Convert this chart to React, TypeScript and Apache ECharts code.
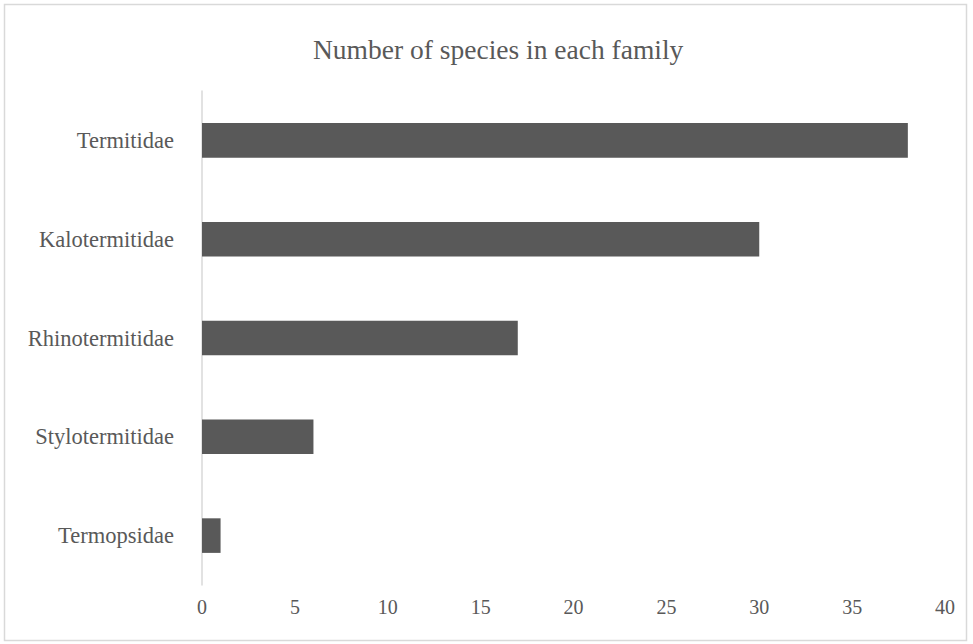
import React, { useEffect, useRef } from "react";
import * as echarts from "echarts";

const categories = ["Termopsidae", "Stylotermitidae", "Rhinotermitidae", "Kalotermitidae", "Termitidae"];
const speciesCounts = [1, 6, 17, 30, 38];
const titleText = "Number of species in each family";

export default function App() {
  const ref = useRef<HTMLDivElement>(null);
  useEffect(() => {
    document.body.style.margin = "0";
    const chart = echarts.init(ref.current!, undefined, { renderer: "svg" });
    chart.setOption({
      animation: false,
      backgroundColor: "#ffffff",
      title: {
        text: titleText,
        left: 308,
        top: 30,
        textStyle: {
          fontFamily: "Liberation Serif",
          fontWeight: "normal",
          fontSize: 27.5,
          color: "#595959",
        },
      },
      graphic: [
        {
          type: "rect",
          shape: { x: 4.5, y: 4.5, width: 962, height: 636 },
          style: { fill: "none", stroke: "#d9d9d9", lineWidth: 1.5 },
          silent: true,
        },
      ],
      grid: { left: 202, right: 28, top: 91, bottom: 59 },
      xAxis: {
        type: "value",
        min: 0,
        max: 40,
        interval: 5,
        axisLine: { show: false },
        axisTick: { show: false },
        splitLine: { show: false },
        axisLabel: {
          margin: 12,
          fontFamily: "Liberation Sans Narrow",
          fontSize: 20,
          color: "#595959",
        },
      },
      yAxis: {
        type: "category",
        data: categories,
        axisLine: { show: true, lineStyle: { color: "#d9d9d9", width: 1.5 } },
        axisTick: { show: false },
        axisLabel: {
          margin: 28,
          fontFamily: "Liberation Serif",
          fontSize: 22.5,
          color: "#595959",
        },
      },
      series: [
        {
          type: "bar",
          data: speciesCounts,
          barWidth: "35%",
          itemStyle: { color: "#595959" },
        },
      ],
    });
    return () => chart.dispose();
  }, []);
  return <div ref={ref} style={{ width: 973, height: 644 }} />;
}
